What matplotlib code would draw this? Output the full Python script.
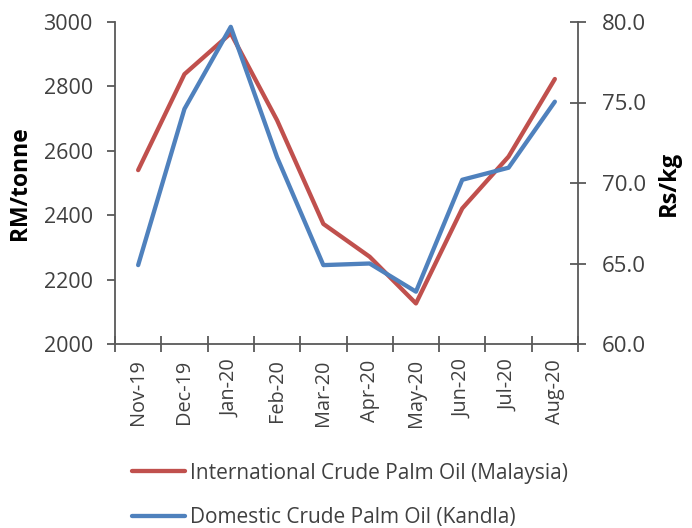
import matplotlib
matplotlib.use("Agg")
import matplotlib.pyplot as plt
import numpy as np

months = ["Nov-19", "Dec-19", "Jan-20", "Feb-20", "Mar-20", "Apr-20",
          "May-20", "Jun-20", "Jul-20", "Aug-20"]
intl_rm_tonne = [2540, 2838, 2965, 2695, 2373, 2271, 2126, 2421, 2582, 2823]
dom_rs_kg = [64.9, 74.6, 79.7, 71.6, 64.9, 65.0, 63.25, 70.2, 70.95, 75.05]
left_ticks = [2000, 2200, 2400, 2600, 2800, 3000]
right_ticks = [60.0, 65.0, 70.0, 75.0, 80.0]

plt.rcParams['font.family'] = ['Open Sans', 'DejaVu Sans']
txt = '#404040'
spc = '#595959'

fig = plt.figure(figsize=(6.92, 5.28), dpi=100)
ax = fig.add_axes([115/692, 1-344/528, (578-115)/692, (344-22)/528])
ax2 = ax.twinx()

x = np.arange(len(months))
l1, = ax.plot(x, intl_rm_tonne, color='#C0504D', lw=3.1, solid_capstyle='round',
              label='International Crude Palm Oil (Malaysia)', zorder=3)
l2, = ax2.plot(x, dom_rs_kg, color='#4F81BD', lw=3.1, solid_capstyle='round',
               label='Domestic Crude Palm Oil (Kandla)', zorder=4)

ax.set_xlim(-0.5, len(months) - 0.5)
ax.set_ylim(2000, 3000)
ax2.set_ylim(60, 80)
ax.set_yticks(left_ticks)
ax.set_yticklabels([str(v) for v in left_ticks])
ax2.set_yticks(right_ticks)
ax2.set_yticklabels([f"{v:.1f}" for v in right_ticks])

ax.set_xticks(x)
ax.set_xticklabels(months, rotation=90)
ax.set_xticks(np.arange(-0.5, len(months)), minor=True)
ax.tick_params(axis='x', which='major', length=0, pad=11, labelsize=14.3, labelcolor=txt)
ax.tick_params(axis='x', which='minor', length=11, direction='inout', width=1.3, color=spc)
ax.tick_params(axis='y', length=6, width=1.3, color=spc, labelsize=15.5, labelcolor=txt, pad=10)
ax2.tick_params(axis='y', length=12, direction='inout', width=1.3, color=spc,
                labelsize=16, labelcolor=txt, pad=11)

for a in (ax, ax2):
    a.spines['top'].set_visible(False)
    for s in ('left', 'right', 'bottom'):
        a.spines[s].set_color(spc)
        a.spines[s].set_linewidth(1.3)
ax.spines['right'].set_visible(False)
ax2.spines['left'].set_visible(False)
ax2.spines['bottom'].set_visible(False)

ax.set_ylabel('RM/tonne', fontsize=16.5, fontweight='bold', color='black', labelpad=8)
ax2.set_ylabel('Rs/kg', fontsize=17, fontweight='bold', color='black', labelpad=8)

fig.legend(handles=[l1, l2], loc='upper left', bbox_to_anchor=(132/692, 0.124),
           frameon=False, fontsize=15, labelcolor=txt, handlelength=2.55,
           handletextpad=0.25, labelspacing=1.15, borderaxespad=0.0, borderpad=0.0)

fig.savefig('out.png', dpi=100)
